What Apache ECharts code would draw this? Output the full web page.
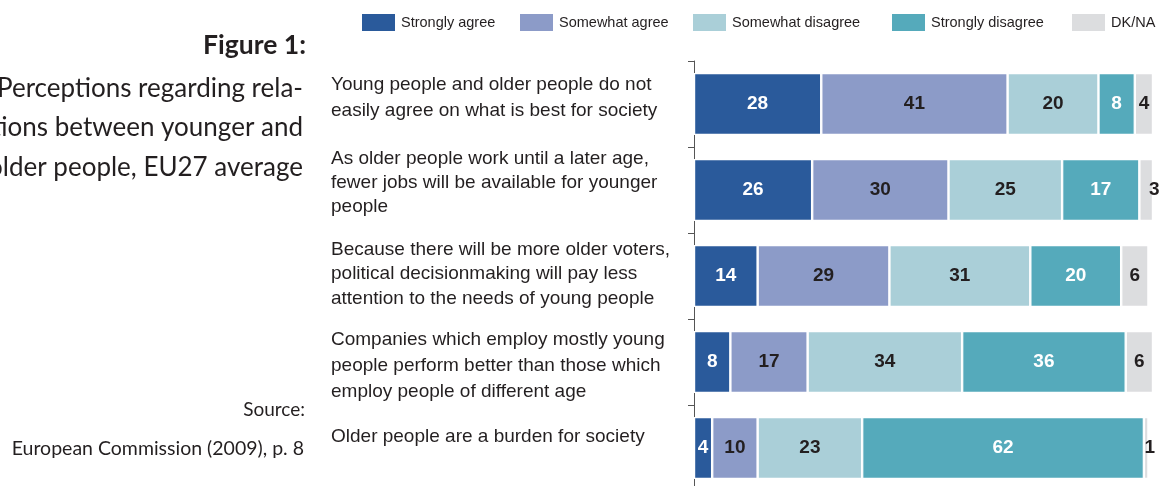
<!DOCTYPE html>
<html>
<head>
<meta charset="utf-8">
<script src="https://cdn.jsdelivr.net/npm/echarts@6/dist/echarts.min.js"></script>
<style>
html,body{margin:0;padding:0;background:#fff;}
#chart{width:1163px;height:486px;}
</style>
</head>
<body>
<div id="chart"></div>
<script>
const categories = [
  'Young people and older people do not\neasily agree on what is best for society',
  'As older people work until a later age,\nfewer jobs will be available for younger\npeople',
  'Because there will be more older voters,\npolitical decisionmaking will pay less\nattention to the needs of young people',
  'Companies which employ mostly young\npeople perform better than those which\nemploy people of different age',
  'Older people are a burden for society'
];
const seriesNames = ['Strongly agree', 'Somewhat agree', 'Somewhat disagree', 'Strongly disagree', 'DK/NA'];
const stronglyAgree = [28, 26, 14, 8, 4];
const somewhatAgree = [41, 30, 29, 17, 10];
const somewhatDisagree = [20, 25, 31, 34, 23];
const stronglyDisagree = [8, 17, 20, 36, 62];
const dkNa = [4, 3, 6, 6, 1];

const values = [stronglyAgree, somewhatAgree, somewhatDisagree, stronglyDisagree, dkNa];
const colors = ['#2a5a9b', '#8c9bc8', '#aacfd8', '#55aabb', '#dcdddf'];
const labelColors = ['#ffffff', '#231f20', '#231f20', '#ffffff', '#231f20'];
// layout tweaks for category labels: line height, spacer above, spacer below
const labelLineHeight = [26, 24, 24.5, 26, 25];
const spacerTop = [0, 0, 0, 8, 0];
const spacerBottom = [12, 14, 4, 0, 23];
const legendLeft = [360, 518, 691, 890, 1070];

const chart = echarts.init(document.getElementById('chart'));
const textColor = '#231f20';
const leftFont = 'Lato, "Open Sans", sans-serif';
const condFont = '"Liberation Sans", Arial, sans-serif';

const series = seriesNames.map((name, i) => ({
  name: name,
  type: 'bar',
  stack: 'total',
  barWidth: 62,
  itemStyle: { color: colors[i], borderColor: '#ffffff', borderWidth: 1.2 },
  label: {
    show: true,
    color: labelColors[i],
    fontFamily: condFont,
    fontWeight: 'bold',
    fontSize: 19
  },
  data: values[i].map(v => {
    if (i === 4 && v < 4) {
      return { value: v, label: { position: 'right', distance: -4 } };
    }
    return { value: v, label: { position: 'inside' } };
  })
}));

const legends = seriesNames.map((name, i) => ({
  left: legendLeft[i],
  top: 12,
  padding: 0,
  itemWidth: 35,
  itemHeight: 19,
  icon: 'rect',
  textStyle: { fontFamily: condFont, fontSize: 14.5, color: textColor },
  data: [name]
}));

const rich = {};
categories.forEach((c, i) => {
  rich['t' + i] = { fontFamily: condFont, fontSize: 19, color: textColor, lineHeight: labelLineHeight[i], align: 'left' };
  rich['a' + i] = { fontSize: 1, lineHeight: Math.max(spacerTop[i], 0.01) };
  rich['b' + i] = { fontSize: 1, lineHeight: Math.max(spacerBottom[i], 0.01) };
});

const option = {
  animation: false,
  legend: legends,
  grid: { left: 694, right: 0, top: 61, height: 430, outerBoundsMode: 'none', containLabel: false },
  xAxis: {
    type: 'value',
    min: 0,
    max: 103.2,
    show: false
  },
  yAxis: {
    type: 'category',
    inverse: true,
    data: categories,
    axisLine: { show: true, lineStyle: { color: '#555555', width: 1 } },
    axisTick: { show: true, length: 6, lineStyle: { color: '#555555', width: 1 } },
    axisLabel: {
      align: 'left',
      margin: 363,
      verticalAlign: 'middle',
      fontFamily: condFont,
      fontSize: 19,
      color: textColor,
      formatter: function (value, index) {
        let s = value.split('\n').map(l => '{t' + index + '|' + l + '}').join('\n');
        if (spacerTop[index] > 0) s = '{a' + index + '| }\n' + s;
        if (spacerBottom[index] > 0) s = s + '\n{b' + index + '| }';
        return s;
      },
      rich: rich
    }
  },
  graphic: [
    { type: 'text', right: 1163 - 306, top: 32, style: { text: 'Figure 1:', font: 'bold 26.5px ' + leftFont, fill: textColor, textAlign: 'right' } },
    { type: 'text', right: 1163 - 303, top: 68.5, style: { text: 'Perceptions regarding rela-\ntions between younger and\nolder people, EU27 average', font: '26px ' + leftFont, lineHeight: 39.5, fill: textColor, textAlign: 'right' } },
    { type: 'text', right: 1163 - 305, top: 400, style: { text: 'Source:', font: '19px ' + leftFont, fill: textColor, textAlign: 'right' } },
    { type: 'text', right: 1163 - 304, top: 439, style: { text: 'European Commission (2009), p. 8', font: '19.5px ' + leftFont, fill: textColor, textAlign: 'right' } }
  ],
  series: series
};
chart.setOption(option);
</script>
</body>
</html>
